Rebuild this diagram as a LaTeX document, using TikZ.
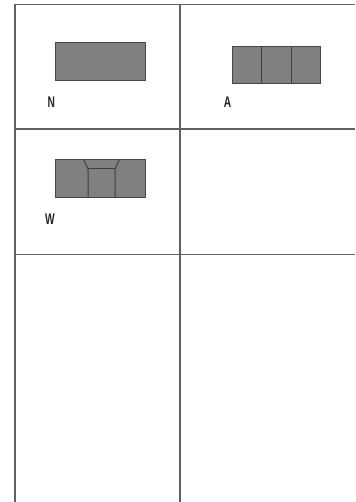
\documentclass[tikz,border=0pt]{standalone}
\usepackage{fontspec}
\setmainfont{Liberation Sans}
\begin{document}
\begin{tikzpicture}[x=1bp,y=-1bp,
  gridline/.style={draw=black!62,line width=1.1bp},
  part/.style={draw=black!72,fill=black!50,line width=0.9bp},
  inner/.style={draw=black!75,line width=1bp},
  lbl/.style={font=\fontsize{15.5}{16}\selectfont\bfseries,xscale=0.66,inner sep=0pt,text=black!85}]
\useasboundingbox[fill=white] (0,0) rectangle (355,502);
% grid
\coordinate (tl) at (15,4.5);
\coordinate (tr) at (355,4.5);
\coordinate (bl) at (15,502);
\coordinate (mt) at (180,4.5);
\coordinate (mb) at (180,502);
\coordinate (h1l) at (15,129);
\coordinate (h1r) at (355,129);
\coordinate (h2l) at (15,254.5);
\coordinate (h2r) at (355,254.5);
\draw[gridline] (tl) -- (tr);
\draw[gridline] (tl) -- (bl);
\draw[gridline] (mt) -- (mb);
\draw[gridline] (h1l) -- (h1r);
\draw[gridline] (h2l) -- (h2r);
% N
\draw[part] (55,42) rectangle (145,80);
\node[lbl] (nN) at (51.2,102.5) {N};
% A
\draw[part] (232.3,46.7) rectangle (320.7,83.3);
\draw[inner] (261.7,46.7) -- (261.7,83.3);
\draw[inner] (291,46.7) -- (291,83.3);
\node[lbl] (nA) at (227.5,102.5) {A};
% W
\draw[part] (55,159.3) rectangle (145,197.3);
\draw[inner] (83.5,159.3) -- (88,169) -- (88,197.3);
\draw[inner] (88,169) -- (115,169);
\draw[inner] (119.5,159.3) -- (115,169) -- (115,197.3);
\node[lbl] (nW) at (50,219.5) {W};
\end{tikzpicture}
\end{document}
